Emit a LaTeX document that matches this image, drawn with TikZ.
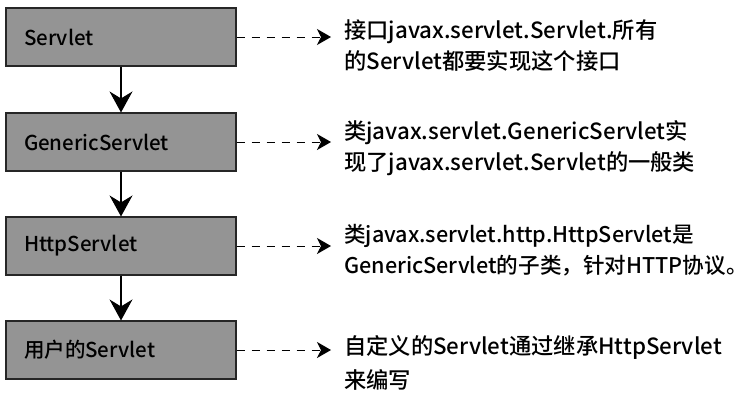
\documentclass[tikz,border=0pt]{standalone}
\usepackage{fontspec}
\setmainfont{Noto Sans CJK SC Medium}
\usetikzlibrary{arrows.meta}
\begin{document}
\begin{tikzpicture}[x=1pt,y=-1pt,
  classbox/.style={draw=black!85, line width=1.1pt, fill=black!42,
    minimum width=230pt, minimum height=58pt, text width=194pt,
    inner xsep=18pt, inner ysep=0pt, align=left,
    font=\fontsize{20.5}{24}\selectfont},
  note/.style={font=\fontsize{22.3}{31}\selectfont, align=left,
    anchor=north west, inner sep=0pt},
  inherit/.style={line width=1.1pt,
    -{Stealth[length=21pt,width=23pt,inset=7pt]}},
  refer/.style={line width=1pt, dash pattern=on 8pt off 7pt,
    -{Stealth[length=14pt,width=16pt,inset=4pt]}}]
\useasboundingbox (0,0) rectangle (754,392);

% class hierarchy
\node[classbox] (b1) at (121,37)  {Servlet};
\node[classbox] (b2) at (121,142) {GenericServlet};
\node[classbox] (b3) at (121,246) {HttpServlet};
\node[classbox] (b4) at (121,350) {用户的Servlet};

\draw[inherit] (b1) -- (b2);
\draw[inherit] (b2) -- (b3);
\draw[inherit] (b3) -- (b4);

% dashed pointers to the descriptions
\coordinate (t1) at (331,37);
\coordinate (t2) at (331,142);
\coordinate (t3) at (331,246);
\coordinate (t4) at (331,350);
\draw[refer] (b1.east) -- (t1);
\draw[refer] (b2.east) -- (t2);
\draw[refer] (b3.east) -- (t3);
\draw[refer] (b4.east) -- (t4);

% descriptions
\node[note] (n1) at (344,19)  {接口javax.servlet.Servlet.所有\\的Servlet都要实现这个接口};
\node[note] (n2) at (344,120) {类javax.servlet.GenericServlet实\\现了javax.servlet.Servlet的一般类};
\node[note, font=\fontsize{21.6}{31}\selectfont] (n3) at (344,224) {类javax.servlet.http.HttpServlet是\\GenericServlet的子类，针对HTTP协议。};
\node[note, font=\fontsize{22.3}{34}\selectfont] (n4) at (344,335) {自定义的Servlet通过继承HttpServlet\\来编写};
\end{tikzpicture}
\end{document}
